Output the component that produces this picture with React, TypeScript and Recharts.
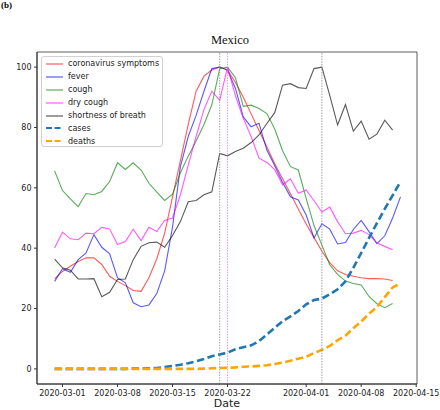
import * as React from "react";
import {
  LineChart,
  Line,
  XAxis,
  YAxis,
  ReferenceLine,
  ReferenceArea,
  Legend,
} from "recharts";

// day index -1 = 2020-02-29, 0 = 2020-03-01 ...
const firstDay = -1;

const symptoms = [
  29.8, 32.3, 34, 35.6, 36.8, 36.8, 34.6, 30.7, 29, 27.6, 26, 25.7, 30.2, 36.5, 45,
  57, 69, 81, 92, 97, 99, 100, 99, 95, 90, 84.5, 79, 73.5, 68, 63, 58, 53, 48,
  43.5, 39, 35.2, 32.5, 31.3, 30.7, 30.2, 29.9, 29.9, 29.8, 29.3,
];
const fever = [
  29, 33.2, 32, 36.2, 38.4, 44.5, 40.3, 38.1, 30.2, 28.5, 21.9, 20.6, 21.2, 25, 32.5,
  47, 67, 77, 84, 92, 99.5, 100, 99, 93, 83.5, 80.2, 81.4, 72.5, 67.3, 61.8, 57, 56,
  51, 43.4, 48.1, 46.3, 41.4, 41.9, 46.2, 49.2, 45.5, 41.5, 44.1, 50, 57,
];
const cough = [
  65.6, 59.1, 56.3, 53.8, 58.1, 57.7, 58.8, 62.1, 68.3, 66.1, 68.3, 65.9, 61.5, 58.6,
  55.8, 57.9, 65, 70.5, 75.5, 81, 87.5, 99.5, 100, 96.5, 87, 87.4, 86.3, 84.6, 79.5,
  72.3, 67, 65.9, 56.5, 47.5, 41, 34.5, 31.3, 29.1, 28.3, 27.8, 24, 21.6, 20.3, 21.7,
];
const dryCough = [
  40.1, 45.3, 43.1, 42.8, 45, 44.8, 46.9, 46.4, 41.2, 42.2, 46.3, 42.5, 46.9, 45.5,
  49.2, 50, 57.7, 67.5, 77, 86, 92, 89, 100, 90.5, 83, 77, 69.8, 68.4, 66, 61, 63,
  58.2, 59.3, 55.7, 52, 53.6, 48.8, 44.8, 45, 45.9, 44.5, 41.7, 40.6, 39.5,
];
const breath = [
  36.4, 33.5, 32.7, 29.8, 29.8, 29.9, 23.9, 25.4, 29.6, 29.8, 36.2, 40.6, 41.8, 42,
  40.3, 44.2, 48.8, 55.4, 55.8, 57.7, 58.7, 71.4, 70.6, 72, 73.1, 75, 77.5, 81.3,
  84.9, 94, 94.5, 93.2, 92.9, 99.5, 100, 90.6, 80.8, 87.6, 78.8, 82.1, 76.1, 77.8,
  82.4, 79.1,
];
const cases = [
  0, 0, 0, 0, 0, 0, 0, 0, 0, 0, 0.1, 0.1, 0.2, 0.3, 0.6, 1, 1.4, 1.9, 2.5, 3.3, 4.2,
  4.8, 5.4, 6.5, 7.2, 7.8, 9.2, 11.4, 13.6, 15.8, 17.4, 19.2, 21.4, 22.8, 23.3, 24.7,
  26.4, 29, 33.5, 38.4, 43.4, 48.3, 53, 57.5, 62,
];
const deaths = [
  0, 0, 0, 0, 0, 0, 0, 0, 0, 0, 0, 0, 0, 0, 0, 0, 0, 0, 0, 0.1, 0.2, 0.3, 0.4, 0.5,
  0.7, 0.8, 1, 1.2, 1.6, 2.1, 2.7, 3.4, 4, 5.3, 6.3, 7.6, 9.5, 11, 13.5, 15.7, 18.3,
  20.5, 23.8, 27, 28.3,
];

const xTicks = [0, 7, 14, 21, 31, 38, 45];
const xTickLabels = [
  "2020-03-01",
  "2020-03-08",
  "2020-03-15",
  "2020-03-22",
  "2020-04-01",
  "2020-04-08",
  "2020-04-15",
];
const yTicks = [0, 20, 40, 60, 80, 100];

const peakDays = [
  { day: 20, color: "#888888" },
  { day: 21, color: "#ff66ff" },
  { day: 33, color: "#888888" },
];

const series = [
  { key: "symptoms", name: "coronavirus symptoms", color: "#ff0000", values: symptoms, dashed: false },
  { key: "fever", name: "fever", color: "#0000ff", values: fever, dashed: false },
  { key: "cough", name: "cough", color: "#008000", values: cough, dashed: false },
  { key: "dryCough", name: "dry cough", color: "#ff00ff", values: dryCough, dashed: false },
  { key: "breath", name: "shortness of breath", color: "#000000", values: breath, dashed: false },
  { key: "cases", name: "cases", color: "#1f77b4", values: cases, dashed: true },
  { key: "deaths", name: "deaths", color: "#ffa500", values: deaths, dashed: true },
];

const X_MIN = -3.24;
const X_MAX = 45.1;

const rows = cases.map((_, i) => {
  const row: Record<string, number | undefined> = { day: firstDay + i };
  series.forEach((s) => {
    row[s.key] = s.values[i];
  });
  return row;
});

const font = "'DejaVu Sans', sans-serif";

const LegendBox = () => (
  <div
    style={{
      width: 122,
      height: 91,
      border: "1px solid #d0d0d0",
      borderRadius: 3,
      background: "rgba(255,255,255,0.85)",
      fontFamily: font,
      fontSize: 8,
      color: "#222",
      boxSizing: "border-box",
      paddingTop: 0.5,
    }}
  >
    {series.map((s) => (
      <div key={s.key} style={{ height: 12.9, display: "flex", alignItems: "center" }}>
        <svg width={26} height={6} style={{ flex: "none" }}>
          <line
            x1={4}
            x2={21}
            y1={3}
            y2={3}
            stroke={s.color}
            strokeOpacity={s.dashed ? 1 : 0.7}
            strokeWidth={s.dashed ? 2.2 : 1.1}
            strokeDasharray={s.dashed ? "6 2.5" : undefined}
          />
        </svg>
        <span style={{ whiteSpace: "nowrap" }}>{s.name}</span>
      </div>
    ))}
  </div>
);

export default function App() {
  return (
    <div style={{ position: "absolute", left: 0, top: 0, width: 440, height: 410, background: "#fff" }}>
      <div
        style={{
          position: "absolute",
          left: 1,
          top: 0,
          fontFamily: "'Liberation Serif', serif",
          fontWeight: "bold",
          fontSize: 9,
        }}
      >
        (b)
      </div>
      <div
        style={{
          position: "absolute",
          left: 0,
          width: 460,
          top: 33,
          textAlign: "center",
          fontFamily: "'Liberation Serif', serif",
          fontSize: 12.5,
          color: "#111",
        }}
      >
        Mexico
      </div>
      <div
        style={{
          position: "absolute",
          left: 37,
          width: 380,
          top: 397,
          textAlign: "center",
          fontFamily: font,
          fontSize: 11,
          color: "#222",
        }}
      >
        Date
      </div>
      <LineChart
        width={440}
        height={410}
        data={rows}
        margin={{ top: 52, right: 23, bottom: 0, left: 7 }}
      >
        <XAxis
          dataKey="day"
          type="number"
          domain={[X_MIN, X_MAX]}
          allowDataOverflow
          ticks={xTicks}
          interval={0}
          tickFormatter={(v: number) => xTickLabels[xTicks.indexOf(v)] ?? ""}
          height={26}
          tickSize={3}
          tickMargin={3}
          stroke="#333"
          tick={{ fontSize: 8, fontFamily: font, fill: "#222" }}
        />
        <YAxis
          type="number"
          domain={[-5, 105]}
          allowDataOverflow
          ticks={yTicks}
          interval={0}
          width={30}
          tickSize={3}
          tickMargin={2.5}
          stroke="#333"
          tick={{ fontSize: 8, fontFamily: font, fill: "#222" }}
        />
        <ReferenceArea
          x1={X_MIN}
          x2={X_MAX}
          y1={-5}
          y2={105}
          fill="none"
          stroke="#333"
          strokeWidth={0.8}
          ifOverflow="visible"
        />
        {series
          .filter((s) => !s.dashed)
          .map((s) => (
            <Line
              key={s.key}
              dataKey={s.key}
              name={s.name}
              type="linear"
              stroke={s.color}
              strokeOpacity={0.65}
              strokeWidth={1.1}
              dot={false}
              activeDot={false}
              isAnimationActive={false}
            />
          ))}
        {series
          .filter((s) => s.dashed)
          .map((s) => (
            <Line
              key={s.key}
              dataKey={s.key}
              name={s.name}
              type="linear"
              stroke={s.color}
              strokeWidth={2.6}
              strokeDasharray="7.5 3.5"
              dot={false}
              activeDot={false}
              isAnimationActive={false}
            />
          ))}
        {peakDays.map((p) => (
          <ReferenceLine
            key={p.day}
            x={p.day}
            stroke={p.color}
            strokeWidth={0.8}
            strokeDasharray="1.5 1.2"
          />
        ))}
        <Legend
          layout="vertical"
          align="center"
          verticalAlign="middle"
          wrapperStyle={{ left: 41, top: 56, width: 122 }}
          content={() => <LegendBox />}
        />
      </LineChart>
    </div>
  );
}
